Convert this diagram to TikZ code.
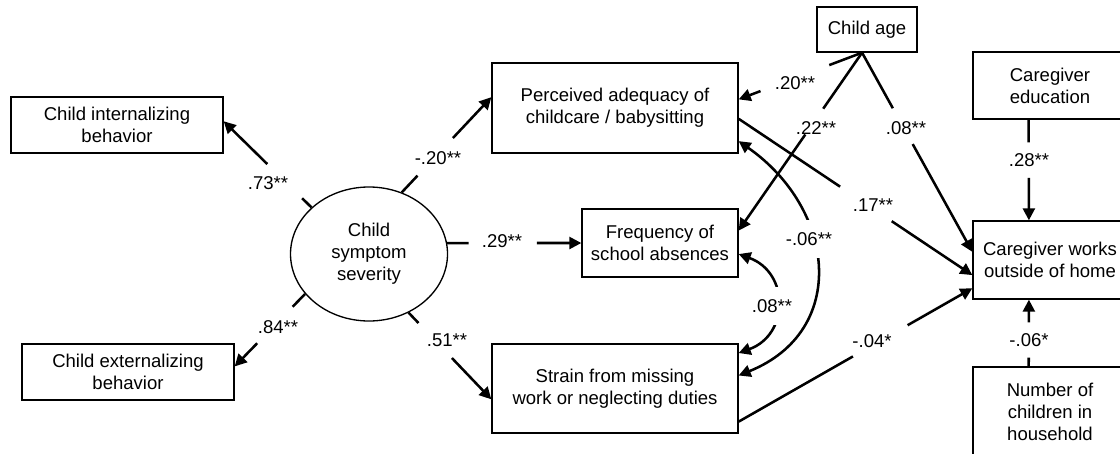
\documentclass[tikz,border=0pt]{standalone}
\usepackage{fontspec}
\setmainfont{Liberation Sans}
\usetikzlibrary{calc,arrows.meta,shapes.geometric}
\tikzset{
  box/.style={draw, line width=1pt, inner sep=0pt, align=center, font=\fontsize{13.9pt}{16.5pt}\selectfont},
  ellbox/.style={draw, ellipse, line width=1pt, inner sep=0pt, align=center, font=\fontsize{13.9pt}{16.5pt}\selectfont},
  conn/.style={line width=1.9pt},
  arr/.style={-{Triangle[length=9pt,width=9pt]}},
  biarr/.style={{Triangle[length=9pt,width=9pt]}-{Triangle[length=9pt,width=9pt]}},
  lab/.style={inner sep=1pt, font=\fontsize{13.9pt}{16.5pt}\selectfont},
  labw/.style={lab, fill=white}
}
\newcommand\gaparrow[4]{%
  \draw[conn] (#1) -- ($(#1)!#3!(#2)$);
  \draw[conn,arr] ($(#1)!#4!(#2)$) -- (#2);}
\begin{document}
\begin{tikzpicture}[x=0.75pt,y=-0.75pt]
\useasboundingbox (0,0) rectangle (1120,453);
\clip (0,0) rectangle (1120,453);
% nodes
\node[box, minimum width=159pt, minimum height=42pt] (intern) at (117,125) {Child internalizing\\behavior};
\node[box, minimum width=159pt, minimum height=42pt] (extern) at (128,372) {Child externalizing\\behavior};
\node[ellbox, minimum width=117.75pt, minimum height=100.5pt] (ell) at (369,254) {Child\\symptom\\severity};
\node[box, minimum width=184.5pt, minimum height=67.5pt] (perc) at (615,108) {Perceived adequacy of\\childcare / babysitting};
\node[box, minimum width=117pt, minimum height=51pt] (freq) at (660,243) {Frequency of\\school absences};
\node[box, minimum width=184.5pt, minimum height=66.75pt] (strain) at (615,388.5) {Strain from missing\\work or neglecting duties};
\node[box, minimum width=75pt, minimum height=33.75pt] (age) at (867,29.5) {Child age};
\node[box, minimum width=115.5pt, minimum height=50.25pt] (edu) at (1050,85.5) {Caregiver\\education};
\node[box, minimum width=115.5pt, minimum height=58.5pt] (works) at (1050,260) {Caregiver works\\outside of home};
\node[box, minimum width=115.5pt, minimum height=67.5pt] (nkids) at (1050,412) {Number of\\children in\\household};
% loadings and paths from latent variable
\gaparrow{ell.141.6}{intern.2.7}{0.107}{0.503}
\node[lab] (l73) at (268,183) {.73**};
\gaparrow{ell.212}{extern.3.2}{0.177}{0.68}
\node[lab] (l84) at (278,327) {.84**};
\gaparrow{ell.62.4}{perc.175.4}{0.176}{0.571}
\node[lab] (l20a) at (438,158) {-.20**};
\gaparrow{ell.8.1}{freq.west}{0.16}{0.668}
\node[lab] (l29) at (502,241) {.29**};
\gaparrow{ell.-56.3}{strain.185.3}{0.12}{0.524}
\node[lab] (l51) at (447,340) {.51**};
% child age
\gaparrow{age.-102.5}{perc.4.6}{0.266}{0.823}
\node[lab] (l20b) at (795,83) {.20**};
\gaparrow{age.-102.5}{freq.9.5}{0.315}{0.46}
\node[lab] (l22) at (816,128) {.22**};
\gaparrow{age.-102.5}{works.174.1}{0.279}{0.459}
\node[lab] (l08a) at (906,128) {.08**};
% to caregiver works
\gaparrow{perc.-5.6}{works.191.7}{0.434}{0.655}
\node[lab] (l17) at (873,205) {.17**};
\gaparrow{strain.-15.2}{works.200}{0.489}{0.723}
\node[lab] (l04) at (872,341) {-.04*};
\gaparrow{edu.-122}{works.118.3}{0.225}{0.578}
\node[lab] (l28) at (1029,160) {.28**};
\gaparrow{nkids.115}{works.-118.3}{0.13}{0.66}
\node[lab] (l06a) at (1029,340) {-.06*};
% covariances
\draw[conn,biarr] (freq.-8.7) to[out=-20,in=20,looseness=1.4] (strain.16.5);
\node[labw, minimum height=28.5pt] (l08b) at (772,306) {.08**};
\draw[conn,biarr] (perc.-15.9) to[out=-35,in=22,looseness=1.3] (strain.6.3);
\node[labw, minimum height=28.5pt] (l06b) at (809,239) {-.06**};
\end{tikzpicture}
\end{document}
